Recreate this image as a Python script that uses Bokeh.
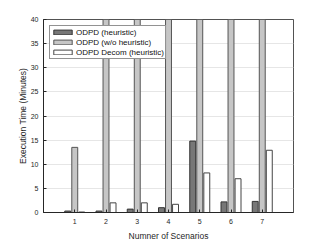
from bokeh.plotting import figure
from bokeh.models import ColumnDataSource, Range1d, FixedTicker, Legend, LegendItem
from bokeh.embed import file_html
from bokeh.resources import INLINE

scenarios = [1, 2, 3, 4, 5, 6, 7]
odpd_heuristic = [0.3, 0.3, 0.7, 1.0, 14.8, 2.2, 2.3]
odpd_wo_heuristic = [13.5, 60, 60, 60, 60, 60, 60]
odpd_decom_heuristic = [0.1, 2.0, 2.0, 1.7, 8.2, 7.0, 12.9]
series_names = ["ODPD (heuristic)", "ODPD (w/o heuristic)", "ODPD Decom (heuristic)"]
y_ticks = [0, 5, 10, 15, 20, 25, 30, 35, 40]

FONT = "Liberation Sans"
AX = "#262626"

p = figure(width=320, height=243, output_backend="svg", toolbar_location=None,
           x_range=Range1d(0, 8), y_range=Range1d(0, 40),
           min_border_left=43, min_border_right=27, min_border_top=19, min_border_bottom=27)
p.background_fill_color = "white"
p.border_fill_color = "white"
p.outline_line_color = AX
p.outline_line_width = 0.8

offsets = [-0.225, 0.0, 0.225]
fills = ["#777777", "#c6c6c6", "#ffffff"]
edges = ["#333333", "#555555", "#444444"]
series = [odpd_heuristic, odpd_wo_heuristic, odpd_decom_heuristic]
renderers = []
for vals, off, fc, ec in zip(series, offsets, fills, edges):
    src = ColumnDataSource(dict(x=[s + off for s in scenarios], top=vals))
    r = p.vbar(x="x", top="top", width=0.19, bottom=0, source=src,
               fill_color=fc, line_color=ec, line_width=1)
    renderers.append(r)

for ax in (p.xaxis[0], p.yaxis[0]):
    ax.axis_line_color = AX
    ax.major_tick_line_color = AX
    ax.major_tick_in = 3
    ax.major_tick_out = 0
    ax.minor_tick_line_color = None
    ax.major_label_text_font = FONT
    ax.major_label_text_font_size = "7px"
    ax.major_label_text_color = AX
    ax.axis_label_text_font = FONT
    ax.axis_label_text_font_size = "8.5px"
    ax.axis_label_text_font_style = "normal"
    ax.axis_label_text_color = AX

p.xaxis[0].ticker = FixedTicker(ticks=scenarios)
p.xaxis[0].axis_label = "Numner of Scenarios"
p.xaxis[0].major_label_standoff = 6
p.xaxis[0].axis_label_standoff = 4
p.yaxis[0].ticker = FixedTicker(ticks=y_ticks)
p.yaxis[0].axis_label = "Execution Time (Minutes)"
p.yaxis[0].major_label_standoff = 5
p.yaxis[0].axis_label_standoff = 0

p.xgrid.grid_line_color = None
p.ygrid.grid_line_color = "#e6e6e6"
p.ygrid.grid_line_width = 1

legend = Legend(items=[LegendItem(label=n, renderers=[r]) for n, r in zip(series_names, renderers)],
                location="top_left")
legend.margin = 6
legend.padding = 1
legend.spacing = 0
legend.glyph_width = 23
legend.glyph_height = 6
legend.label_height = 10
legend.label_standoff = 2
legend.label_text_font = FONT
legend.label_text_font_size = "8px"
legend.label_text_color = "#111111"
legend.border_line_color = AX
legend.border_line_width = 0.8
legend.background_fill_alpha = 1
p.add_layout(legend, "center")

open("out.html", "w").write(file_html(p, INLINE))
